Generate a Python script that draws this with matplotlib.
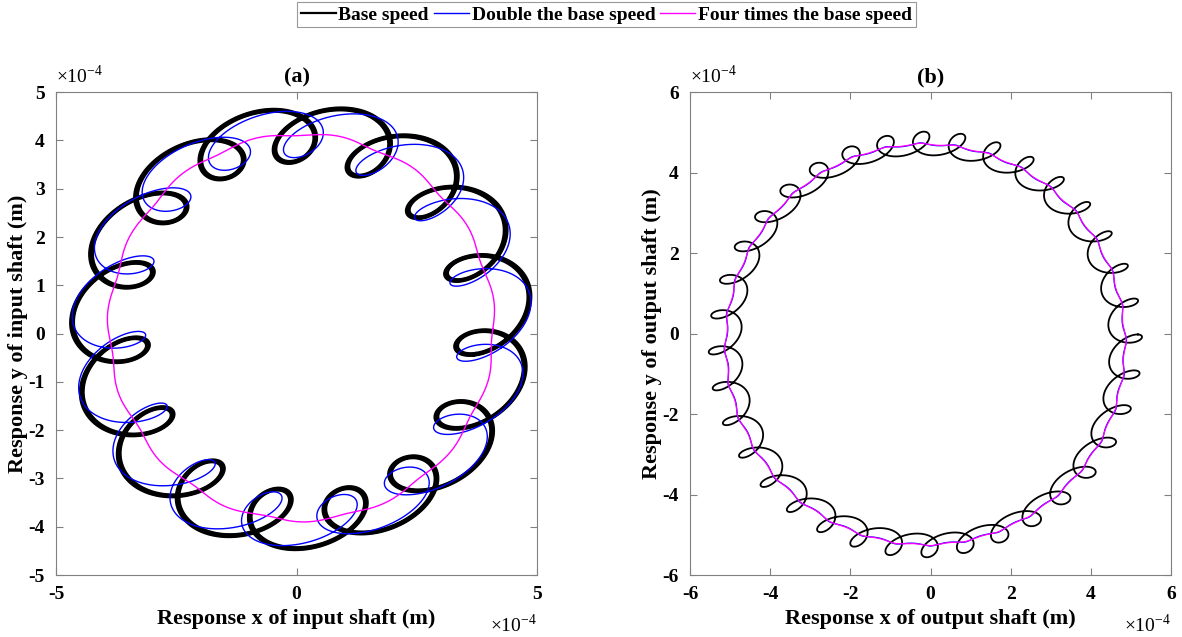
import numpy as np
import matplotlib.pyplot as plt

plt.rcParams['font.family'] = ['Liberation Serif', 'DejaVu Serif']
plt.rcParams['mathtext.fontset'] = 'custom'
plt.rcParams['mathtext.rm'] = 'Liberation Serif'

# DATA (units of 1e-4 m)
series_names = ["Base speed", "Double the base speed", "Four times the base speed"]
series_colors = ["black", "#0000ff", "#ff00ff"]

# (a) input shaft: base circle + 15 inner loops per turn
a_center = [0.10, 0.13]
a_radius = [4.00, 4.02, 4.00]
a_loops = 15
a_amp_x = [0.80, 0.80, 0.04]
a_amp_y = [0.55, 0.45, 0.03]
a_tilt_deg = [20, 20, 20]
a_phase_deg = [225, 268, 225]
a_pass_scale = [0.95, 0.97, 0.99, 1.01, 1.03, 1.05]   # repeated turns of the black orbit

# (b) output shaft: base circle + 36 outer loops per turn
b_center = [-0.13, -0.27]
b_radius = [5.00, 4.98, 4.98]
b_loops = 36
b_amp_x = [0.42, 0.04, 0.03]
b_amp_y = [0.27, 0.03, 0.02]
b_tilt_deg = [20, 20, 20]
b_phase_deg = [29, 29, 29]


def orbit(center, radius, loops, ax_, ay_, tilt_deg, phase_deg, inner=True, scale=1.0):
    th = np.linspace(0, 2 * np.pi, 6000)
    if inner:
        psi = (loops + 1) * th + np.deg2rad(phase_deg)
    else:
        psi = -(loops - 1) * th + np.deg2rad(phase_deg)
    u = scale * ax_ * np.cos(psi)
    v = scale * ay_ * np.sin(psi)
    c, s = np.cos(np.deg2rad(tilt_deg)), np.sin(np.deg2rad(tilt_deg))
    x = center[0] + radius * np.cos(th) + c * u - s * v
    y = center[1] + radius * np.sin(th) + s * u + c * v
    return x, y


fig = plt.figure(figsize=(11.82, 6.37), dpi=100)
ax1 = fig.add_axes([0.0474, 0.0973, 0.407, 0.758])
ax2 = fig.add_axes([0.5838, 0.0973, 0.407, 0.758])

# panel (a)
lines = []
for s in a_pass_scale:
    x, y = orbit(a_center, a_radius[0], a_loops, a_amp_x[0], a_amp_y[0],
                 a_tilt_deg[0], a_phase_deg[0], True, s)
    l, = ax1.plot(x, y, color=series_colors[0], lw=1.6)
lines.append(l)
for i in (1, 2):
    x, y = orbit(a_center, a_radius[i], a_loops, a_amp_x[i], a_amp_y[i],
                 a_tilt_deg[i], a_phase_deg[i], True)
    l, = ax1.plot(x, y, color=series_colors[i], lw=1.0)
    lines.append(l)

# panel (b)
for i in range(3):
    x, y = orbit(b_center, b_radius[i], b_loops, b_amp_x[i], b_amp_y[i],
                 b_tilt_deg[i], b_phase_deg[i], False)
    ax2.plot(x, y, color=series_colors[i], lw=1.3 if i == 0 else 0.9)

for ax, lim, title, lab in [(ax1, 5, "(a)", "input"), (ax2, 6, "(b)", "output")]:
    ax.set_xlim(-lim, lim)
    ax.set_ylim(-lim, lim)
    ax.set_xticks(np.arange(-lim, lim + 1, 5 if lim == 5 else 2))
    ax.set_yticks(np.arange(-lim, lim + 1, 1 if lim == 5 else 2))
    ax.set_xticklabels([f"{v:g}" for v in ax.get_xticks()])
    ax.set_yticklabels([f"{v:g}" for v in ax.get_yticks()])
    ax.tick_params(direction='in', length=5, width=0.8, color='#808080',
                   top=True, right=True, labelsize=14, pad=8)
    for lbl in ax.get_xticklabels() + ax.get_yticklabels():
        lbl.set_fontweight('bold')
    for sp in ax.spines.values():
        sp.set_color('#808080')
        sp.set_linewidth(0.8)
    ax.set_title(title, fontsize=16, fontweight='bold', pad=7)
    ax.set_xlabel(f"Response x of {lab} shaft (m)", fontsize=16, fontweight='bold', labelpad=4)
    ax.set_ylabel(f"Response y of {lab} shaft (m)", fontsize=16, fontweight='bold', labelpad=0)
    ax.text(0.0, 1.01, r"$\times10^{-4}$", transform=ax.transAxes, fontsize=14,
            ha='left', va='bottom')
    ax.text(1.0, -0.08, r"$\times10^{-4}$", transform=ax.transAxes, fontsize=14,
            ha='right', va='top')

leg = fig.legend(lines, series_names, loc='upper center', bbox_to_anchor=(0.513, 1.012),
                 ncol=3, frameon=True, fancybox=False, edgecolor='#808080',
                 handlelength=1.8, handletextpad=0.15, columnspacing=0.25,
                 borderpad=0.2, prop={'weight': 'bold', 'size': 14})
leg.get_frame().set_linewidth(0.8)

fig.savefig("out.png", dpi=100)
